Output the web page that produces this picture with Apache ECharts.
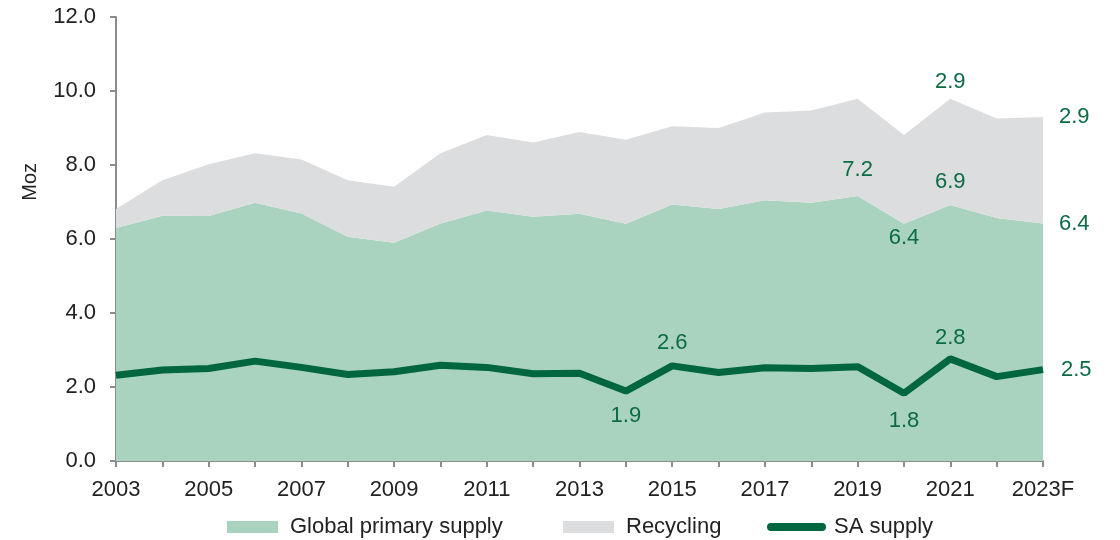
<!DOCTYPE html>
<html>
<head>
<meta charset="utf-8">
<script src="https://cdn.jsdelivr.net/npm/echarts@6/dist/echarts.min.js"></script>
<style>
  html, body { margin: 0; padding: 0; background: #fff; }
  #chart { width: 1120px; height: 540px; }
</style>
</head>
<body>
<div id="chart"></div>
<script>
const years = ["2003", "2004", "2005", "2006", "2007", "2008", "2009", "2010", "2011", "2012",
  "2013", "2014", "2015", "2016", "2017", "2018", "2019", "2020", "2021", "2022", "2023F"];
const primarySupply = [6.30, 6.63, 6.62, 6.98, 6.69, 6.06, 5.90, 6.42, 6.77, 6.60,
  6.68, 6.41, 6.93, 6.81, 7.05, 6.98, 7.16, 6.41, 6.92, 6.57, 6.42];
const recycling = [0.51, 0.96, 1.40, 1.34, 1.46, 1.53, 1.51, 1.90, 2.04, 2.01,
  2.21, 2.27, 2.12, 2.19, 2.37, 2.49, 2.63, 2.40, 2.87, 2.69, 2.88];
const saSupply = [2.32, 2.46, 2.50, 2.70, 2.53, 2.34, 2.41, 2.59, 2.53, 2.36,
  2.37, 1.89, 2.57, 2.39, 2.52, 2.50, 2.55, 1.83, 2.76, 2.28, 2.47];

// which points carry a value label: index -> [position, distance]
const primaryLabels = { 16: ["top", 15], 17: ["bottom", 3], 18: ["top", 12], 20: ["right", 16] };
const recyclingLabels = { 18: ["top", 6], 20: ["right", 16] };
const saLabels = { 11: ["bottom", 14], 12: ["top", 12], 17: ["bottom", 17], 18: ["top", 10], 20: ["right", 18] };

const FONT = "Liberation Sans, Arial, sans-serif";
const labelGreen = "#0b6b43";
const axisGrey = "#8c8c8c";

function withLabels(values, labels) {
  return values.map((v, i) => {
    if (!labels[i]) return v;
    return {
      value: v,
      label: {
        show: true,
        position: labels[i][0],
        distance: labels[i][1],
        color: labelGreen,
        fontSize: 22,
        fontFamily: FONT,
        formatter: p => p.value.toFixed(1)
      }
    };
  });
}

// one legend per entry so each sits where the reference puts it
function legendAt(left, item) {
  return {
    left: left,
    top: 511,
    itemWidth: 51,
    itemHeight: 12,
    selectedMode: false,
    textStyle: { fontSize: 22, fontFamily: FONT, color: "#222", padding: [0, 0, 0, 7] },
    data: [item]
  };
}

const chart = echarts.init(document.getElementById("chart"));
chart.setOption({
  animation: false,
  grid: { left: 116, right: 77, top: 17, bottom: 79, containLabel: false },
  legend: [
    legendAt(222, { name: "Global primary supply", icon: "rect" }),
    legendAt(558, { name: "Recycling", icon: "rect" }),
    legendAt(762, {
      name: "SA supply",
      itemStyle: { opacity: 0 },
      lineStyle: { width: 8, cap: "round", color: "#00663e" }
    })
  ],
  graphic: [{
    type: "text",
    left: 20,
    top: 163,
    rotation: Math.PI / 2,
    style: { text: "Moz", fontSize: 20, fontFamily: FONT, fill: "#222" }
  }],
  xAxis: {
    type: "category",
    data: years,
    boundaryGap: false,
    axisLine: { lineStyle: { color: axisGrey, width: 2 } },
    axisTick: { show: true, interval: 0, length: 6, lineStyle: { color: axisGrey, width: 2 } },
    axisLabel: { interval: 1, margin: 18, fontSize: 22, fontFamily: FONT, color: "#222" },
    splitLine: { show: false }
  },
  yAxis: {
    type: "value",
    min: 0,
    max: 12,
    interval: 2,
    axisLine: { show: true, lineStyle: { color: axisGrey, width: 2 } },
    axisTick: { show: true, length: 6, lineStyle: { color: axisGrey, width: 2 } },
    axisLabel: { margin: 20, fontSize: 22, fontFamily: FONT, color: "#222", formatter: v => v.toFixed(1) },
    splitLine: { show: false }
  },
  series: [
    {
      name: "Global primary supply",
      type: "line",
      stack: "total",
      data: withLabels(primarySupply, primaryLabels),
      symbol: "circle",
      symbolSize: 0,
      showSymbol: true,
      clip: false,
      lineStyle: { width: 0 },
      itemStyle: { color: "#a9d3bf" },
      areaStyle: { color: "#a9d3bf", opacity: 1 },
      emphasis: { disabled: true }
    },
    {
      name: "Recycling",
      type: "line",
      stack: "total",
      data: withLabels(recycling, recyclingLabels),
      symbol: "circle",
      symbolSize: 0,
      showSymbol: true,
      clip: false,
      lineStyle: { width: 0 },
      itemStyle: { color: "#dcdddf" },
      areaStyle: { color: "#dcdddf", opacity: 1 },
      emphasis: { disabled: true }
    },
    {
      name: "SA supply",
      type: "line",
      data: withLabels(saSupply, saLabels),
      symbol: "circle",
      symbolSize: 0,
      showSymbol: true,
      clip: false,
      lineStyle: { width: 7, color: "#00663e" },
      itemStyle: { color: "#00663e" },
      emphasis: { disabled: true }
    }
  ]
});
</script>
</body>
</html>
